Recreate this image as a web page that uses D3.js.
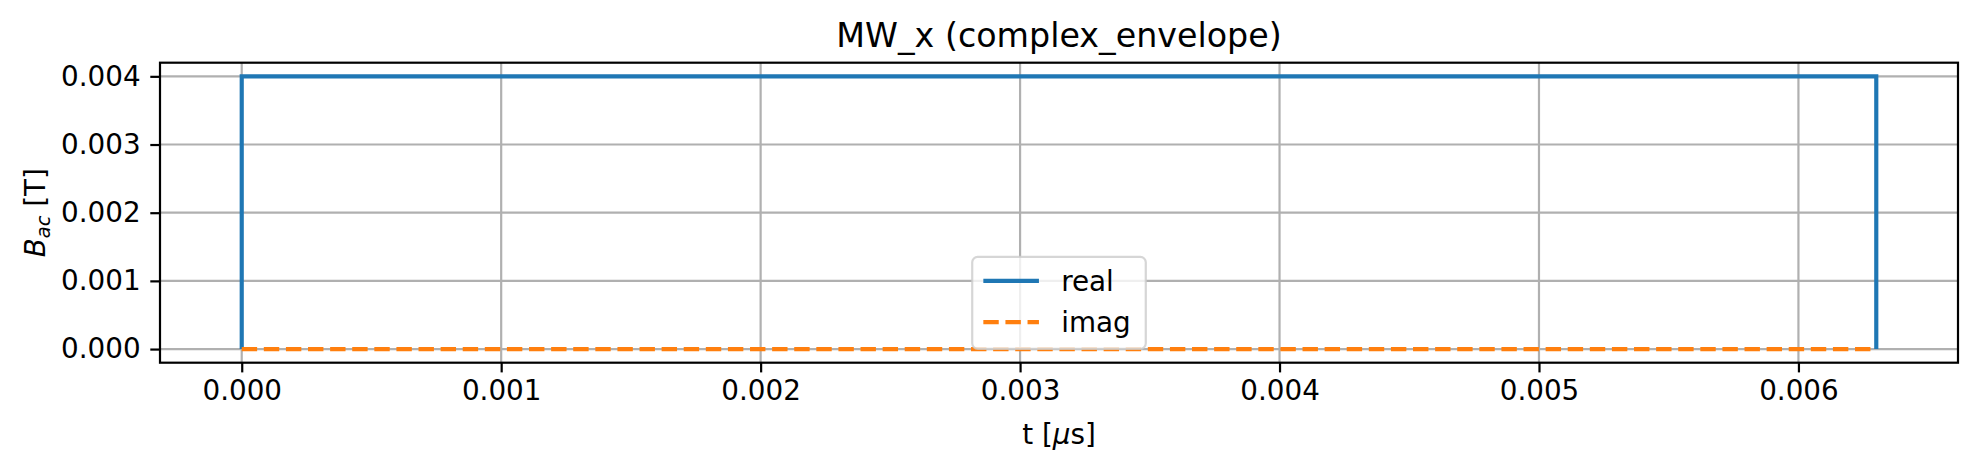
<!DOCTYPE html>
<html>
<head>
<meta charset="utf-8">
<script src="https://cdn.jsdelivr.net/npm/d3@7"></script>
<style>
  body { margin: 0; background: #fff; }
  text { font-family: "DejaVu Sans", sans-serif; fill: #000; }
</style>
</head>
<body>
<div id="chart"></div>
<script>
// Pulse envelope data
const t = [0, 0, 0.0063, 0.0063];
const realVals = [0, 0.004, 0.004, 0];
const imagT = [0, 0.0063];
const imagVals = [0, 0];
const xTicks = [0, 0.001, 0.002, 0.003, 0.004, 0.005, 0.006];
const yTicks = [0, 0.001, 0.002, 0.003, 0.004];
const seriesNames = ["real", "imag"];
const seriesColors = ["#1f77b4", "#ff7f0e"];

const WIDTH = 1978, HEIGHT = 474;
const margin = {top: 62.7, right: 20, bottom: 111.3, left: 160};
const FS = 27.8; // 10pt at 200 dpi

let innerW = WIDTH - margin.left - margin.right,
    innerH = HEIGHT - margin.top - margin.bottom;

let svg = d3.select("#chart")
    .append("svg")
    .attr("width", WIDTH)
    .attr("height", HEIGHT);

let g = svg.append("g")
    .attr("transform", `translate(${margin.left}, ${margin.top})`);

// matplotlib-style 5% margins
let x = d3.scaleLinear().domain([-0.000315, 0.006615]).range([0, innerW]);
let y = d3.scaleLinear().domain([-0.0002, 0.0042]).range([innerH, 0]);

// Grid
g.append("g").selectAll("line").data(xTicks).enter().append("line")
    .attr("x1", d => x(d)).attr("x2", d => x(d))
    .attr("y1", 0).attr("y2", innerH)
    .attr("stroke", "#b0b0b0").attr("stroke-width", 2.2);
g.append("g").selectAll("line").data(yTicks).enter().append("line")
    .attr("y1", d => y(d)).attr("y2", d => y(d))
    .attr("x1", 0).attr("x2", innerW)
    .attr("stroke", "#b0b0b0").attr("stroke-width", 2.2);

// Axes
let xAxis = g.append("g")
    .attr("transform", `translate(0, ${innerH})`)
    .call(d3.axisBottom(x).tickValues(xTicks).tickFormat(d3.format(".3f"))
        .tickSize(9.7).tickPadding(7.5));
let yAxis = g.append("g")
    .call(d3.axisLeft(y).tickValues(yTicks).tickFormat(d3.format(".3f"))
        .tickSize(9.7).tickPadding(9.7));
[xAxis, yAxis].forEach(a => {
    a.select(".domain").remove();
    a.selectAll(".tick line").attr("stroke", "#000").attr("stroke-width", 2.2);
    a.selectAll(".tick text").style("font-size", FS + "px")
        .style("font-family", "DejaVu Sans").attr("fill", "#000");
});

// Lines
let line = d3.line().x(d => x(d[0])).y(d => y(d[1]));
g.append("path")
    .datum(t.map((v, i) => [v, realVals[i]]))
    .attr("d", line)
    .attr("fill", "none")
    .attr("stroke", seriesColors[0])
    .attr("stroke-width", 4.17);
g.append("path")
    .datum(imagT.map((v, i) => [v, imagVals[i]]))
    .attr("d", line)
    .attr("fill", "none")
    .attr("stroke", seriesColors[1])
    .attr("stroke-width", 4.17)
    .attr("stroke-dasharray", "15.4,6.7");

// Spines
g.append("rect")
    .attr("width", innerW).attr("height", innerH)
    .attr("fill", "none").attr("stroke", "#000").attr("stroke-width", 2.2);

// Title
svg.append("text")
    .attr("x", margin.left + innerW / 2)
    .attr("y", 46.5)
    .attr("text-anchor", "middle")
    .style("font-size", "33.3px")
    .text("MW_x (complex_envelope)");

// X label
let xl = svg.append("text")
    .attr("x", margin.left + innerW / 2)
    .attr("y", 444)
    .attr("text-anchor", "middle")
    .style("font-size", FS + "px");
xl.append("tspan").text("t [");
xl.append("tspan").style("font-style", "oblique").text("μ");
xl.append("tspan").text("s]");

// Y label
let yl = svg.append("text")
    .attr("transform", `translate(45, ${margin.top + innerH / 2}) rotate(-90)`)
    .attr("text-anchor", "middle")
    .style("font-size", FS + "px");
yl.append("tspan").style("font-style", "oblique").text("B");
yl.append("tspan").attr("dy", 5).style("font-style", "oblique")
    .style("font-size", (FS * 0.7) + "px").text("ac");
yl.append("tspan").attr("dy", -5).text(" [T]");

// Legend (lower center)
let legend = g.append("g");
let legBox = legend.append("rect")
    .attr("fill", "#fff").attr("fill-opacity", 0.8)
    .attr("stroke", "#cccccc").attr("stroke-opacity", 0.8)
    .attr("stroke-width", 2.2).attr("rx", 5.5);
let rowH = 41.4, pad = 0.4 * FS, handleLen = 2 * FS, textPad = 0.8 * FS;
let maxW = 0;
seriesNames.forEach((name, i) => {
    let cy = 24 + i * rowH;
    legend.append("line")
        .attr("x1", pad).attr("x2", pad + handleLen)
        .attr("y1", cy).attr("y2", cy)
        .attr("stroke", seriesColors[i]).attr("stroke-width", 4.17)
        .attr("stroke-dasharray", i === 1 ? "15.4,6.7" : null);
    let tx = legend.append("text")
        .attr("x", pad + handleLen + textPad)
        .attr("y", cy)
        .attr("dy", "0.35em")
        .style("font-size", FS + "px")
        .text(name);
    maxW = Math.max(maxW, tx.node().getComputedTextLength());
});
let legW = pad + handleLen + textPad + maxW + pad + 4;
let legH = 92;
legBox.attr("width", legW).attr("height", legH);
legend.attr("transform", `translate(${innerW / 2 - legW / 2}, ${innerH - 13.9 - legH})`);
</script>
</body>
</html>
